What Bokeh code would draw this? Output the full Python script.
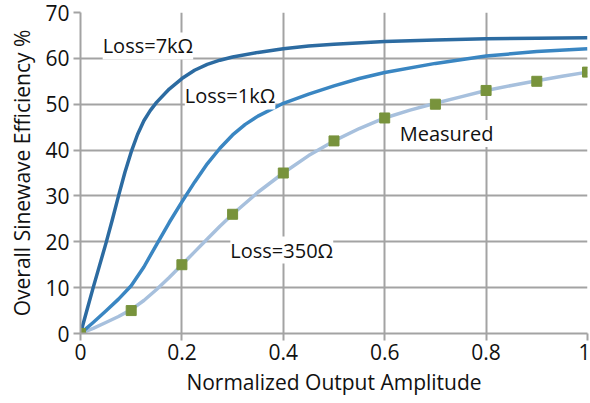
from bokeh.plotting import figure
from bokeh.models import Label, Range1d, FixedTicker
from bokeh.embed import file_html
from bokeh.resources import INLINE

# Loss = 7 kOhm
x_7k = [0, 0.0125, 0.025, 0.0375, 0.05, 0.0625, 0.075, 0.0875, 0.1, 0.1125, 0.125, 0.1375, 0.15,
        0.175, 0.2, 0.225, 0.25, 0.275, 0.3, 0.35, 0.4, 0.45, 0.5, 0.6, 0.7, 0.8, 0.9, 1.0]
y_7k = [0, 5, 10, 14.8, 19.6, 24.7, 30, 35.1, 39.6, 43.4, 46.4, 48.6, 50.4,
        53.3, 55.6, 57.4, 58.7, 59.6, 60.3, 61.3, 62.1, 62.7, 63.1, 63.7, 64.0, 64.3, 64.4, 64.5]

# Loss = 1 kOhm
x_1k = [0, 0.025, 0.05, 0.075, 0.1, 0.125, 0.15, 0.175, 0.2, 0.225, 0.25, 0.275, 0.3, 0.325, 0.35,
        0.4, 0.45, 0.5, 0.55, 0.6, 0.7, 0.8, 0.9, 1.0]
y_1k = [0, 2.4, 4.9, 7.5, 10.4, 14.5, 19.4, 24.2, 28.7, 33.0, 37.0, 40.4, 43.3, 45.6, 47.4,
        50.2, 52.2, 54.0, 55.6, 56.9, 58.9, 60.5, 61.5, 62.1]

# Loss = 350 Ohm
x_350 = [0, 0.025, 0.05, 0.075, 0.1, 0.125, 0.15, 0.175, 0.2, 0.225, 0.25, 0.275, 0.3, 0.35, 0.4,
         0.45, 0.5, 0.55, 0.6, 0.65, 0.7, 0.75, 0.8, 0.85, 0.9, 0.95, 1.0]
y_350 = [0, 1.1, 2.4, 3.7, 5.2, 7.2, 9.6, 12.2, 15, 17.8, 20.6, 23.4, 26, 30.8, 35,
         38.8, 42, 44.7, 47, 48.7, 50.2, 51.6, 53, 54.1, 55.1, 56.1, 57]

# Measured
x_meas = [0, 0.1, 0.2, 0.3, 0.4, 0.5, 0.6, 0.7, 0.8, 0.9, 1.0]
y_meas = [0, 5, 15, 26, 35, 42, 47, 50, 53, 55, 57]

x_ticks = [0, 0.2, 0.4, 0.6, 0.8, 1.0]
x_tick_labels = {0: "0", 0.2: "0.2", 0.4: "0.4", 0.6: "0.6", 0.8: "0.8", 1.0: "1"}
y_ticks = [0, 10, 20, 30, 40, 50, 60, 70]

FONT = "Open Sans"
GRID = "#a3a3a3"

p = figure(width=590, height=403, output_backend="svg", toolbar_location=None,
           x_range=Range1d(0, 1), y_range=Range1d(0, 70),
           min_border_left=80, min_border_right=3, min_border_top=12, min_border_bottom=70)
p.outline_line_color = None
p.background_fill_color = "white"
p.border_fill_color = "white"

for ax in (p.xaxis[0], p.yaxis[0]):
    ax.axis_line_color = GRID
    ax.axis_line_width = 2
    ax.major_tick_line_color = GRID
    ax.major_tick_line_width = 2
    ax.major_tick_in = 0
    ax.major_tick_out = 7
    ax.minor_tick_line_color = None
    ax.major_label_text_font = FONT
    ax.major_label_text_font_size = "21px"
    ax.major_label_text_color = "#111111"
    ax.axis_label_text_font = FONT
    ax.axis_label_text_font_size = "21px"
    ax.axis_label_text_font_style = "normal"
    ax.axis_label_text_color = "#111111"

p.xaxis.ticker = FixedTicker(ticks=x_ticks)
p.xaxis.major_label_overrides = x_tick_labels
p.yaxis.ticker = FixedTicker(ticks=y_ticks)
p.xaxis.axis_label = "Normalized Output Amplitude"
p.yaxis.axis_label = "Overall Sinewave Efficiency %"
p.xaxis.major_label_standoff = 3
p.yaxis.major_label_standoff = 4
p.xaxis.axis_label_standoff = 5
p.yaxis.axis_label_standoff = 6

p.xgrid.grid_line_color = GRID
p.ygrid.grid_line_color = GRID
p.xgrid.grid_line_width = 2
p.ygrid.grid_line_width = 2

p.line(x_350, y_350, line_color="#a7c0dd", line_width=3.5, line_join="round")
p.line(x_1k, y_1k, line_color="#3a86c2", line_width=3.5, line_join="round")
p.line(x_7k, y_7k, line_color="#2c6ba1", line_width=3.5, line_join="round")
p.scatter(x_meas, y_meas, marker="square", size=10, fill_color="#78933c", line_color="#78933c")

def add_label(x, y, text):
    p.add_layout(Label(x=x, y=y, text=text, text_font=FONT, text_font_size="20px",
                       text_color="#111111", text_align="center", text_baseline="middle",
                       background_fill_color="white", background_fill_alpha=1.0))

add_label(0.133, 62.7, "Loss=7kΩ")
add_label(0.295, 51.8, "Loss=1kΩ")
add_label(0.397, 18.2, "Loss=350Ω")
add_label(0.722, 43.6, "Measured")

open("out.html", "w").write(file_html(p, INLINE))
